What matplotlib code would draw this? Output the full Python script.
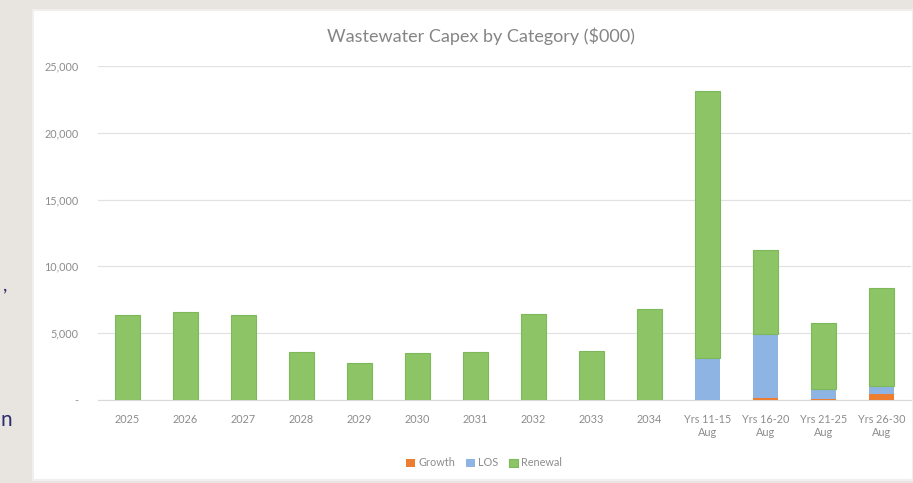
import matplotlib.pyplot as plt
from matplotlib.patches import Rectangle
import numpy as np

categories = ['2025', '2026', '2027', '2028', '2029', '2030', '2031', '2032', '2033', '2034',
              'Yrs 11-15\nAug', 'Yrs 16-20\nAug', 'Yrs 21-25\nAug', 'Yrs 26-30\nAug']
growth = [0, 0, 0, 0, 0, 0, 0, 0, 0, 0, 0, 150, 40, 420]
los = [0, 0, 0, 0, 0, 0, 0, 0, 0, 0, 3120, 4790, 780, 630]
renewal = [6360, 6560, 6360, 3580, 2750, 3500, 3630, 6410, 3680, 6790, 20030, 6290, 4920, 7330]

c_growth = '#ed7d31'
c_los = '#8db4e2'
c_renewal = '#8cc466'

plt.rcParams['font.family'] = ['Lato', 'DejaVu Sans']

fig = plt.figure(figsize=(9.13, 4.83), dpi=100)
fig.patch.set_facecolor('#e8e5e0')

# white chart panel (drawn under the axes)
W, H = 913, 483
fig.patches.append(Rectangle((33 / W, 3 / H), 1 - 33 / W, 470 / H, transform=fig.transFigure,
                             facecolor='white', edgecolor='#f0efed', linewidth=1.5, zorder=-1))

# bits of slide text at the left edge
fig.text(3 / W, 1 - 285 / H, ',', color='#2b2d6e', fontsize=14, ha='left', va='center')
fig.text(1 / W, 1 - 420 / H, 'n', color='#2b2d6e', fontsize=15, ha='left', va='center')

ax = fig.add_axes([98 / W, 1 - 400 / H, 813 / W, 334 / H])
ax.set_facecolor('none')

x = np.arange(len(categories))
w = 0.43
g = np.array(growth)
l = np.array(los)
r = np.array(renewal)
ax.bar(x, g, w, color=c_growth, linewidth=0, label='Growth', zorder=3)
ax.bar(x, l, w, bottom=g, color=c_los, linewidth=0, label='LOS', zorder=3)
ax.bar(x, r, w, bottom=g + l, color=c_renewal, edgecolor='#7db85a', linewidth=0.8,
       label='Renewal', zorder=3)

ax.set_xlim(-0.5, len(categories) - 0.5)
ax.set_ylim(0, 25000)
ax.set_yticks([0, 5000, 10000, 15000, 20000, 25000])
ax.set_yticklabels(['-', '5,000', '10,000', '15,000', '20,000', '25,000'])
ax.set_xticks(x)
ax.set_xticklabels(categories)
ax.tick_params(axis='both', length=0, colors='#8c8c8c', labelsize=7.8)
ax.tick_params(axis='y', pad=14)
ax.tick_params(axis='x', pad=10)
ax.grid(axis='y', color='#e2e2e2', linewidth=0.9, zorder=0)
for s in ['top', 'right', 'left']:
    ax.spines[s].set_visible(False)
ax.spines['bottom'].set_color('#d9d9d9')

fig.text(481 / W, 1 - 36 / H, 'Wastewater Capex by Category ($000)', color='#858585',
         fontsize=13, ha='center', va='center')

ax.legend(loc='center', bbox_to_anchor=(484 / W, 1 - 463 / H), bbox_transform=fig.transFigure,
          ncol=3, frameon=False, fontsize=7.8, handlelength=0.8, handleheight=0.8,
          handletextpad=0.3, columnspacing=1.0, labelcolor='#8c8c8c')

fig.savefig('out.png', dpi=100, facecolor=fig.get_facecolor())
